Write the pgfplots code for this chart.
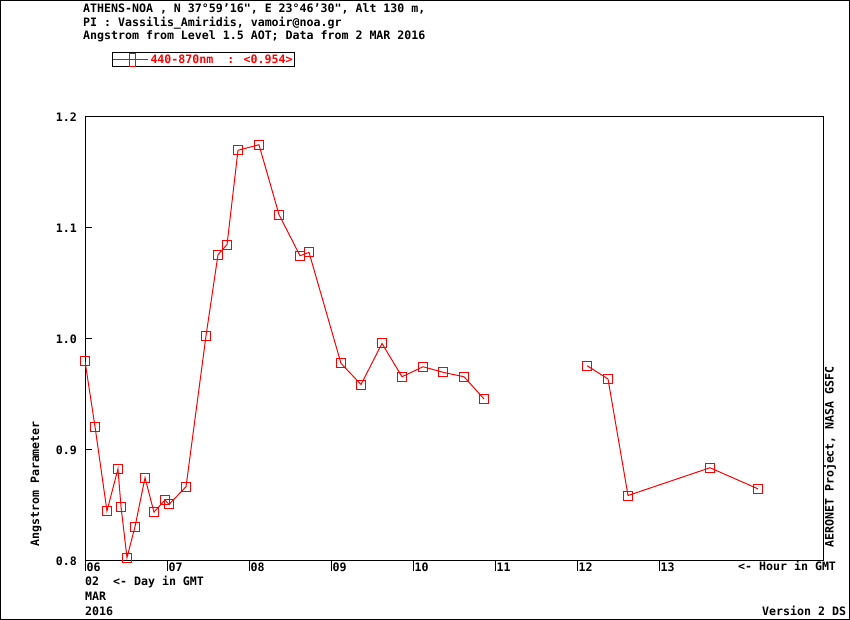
\documentclass[border=0pt]{standalone}
\usepackage{fontspec}
\setmainfont{DejaVu Sans Mono}[Ligatures=TeXOff]
\usepackage{pgfplots}
\pgfplotsset{compat=1.18}
\usepackage{pgfplotstable}

\newcommand\ff{\fontsize{11.6pt}{13.5pt}\selectfont\bfseries}

% Angstrom 440-870 nm, hour of day (GMT) vs value
\pgfplotstableread{
hour   ae
6.000  0.980
6.122  0.921
6.268  0.845
6.402  0.883
6.439  0.849
6.512  0.803
6.610  0.831
6.732  0.875
6.841  0.844
6.976  0.855
7.024  0.851
7.232  0.867
7.476  1.003
7.622  1.076
7.732  1.085
7.866  1.170
8.122  1.175
8.366  1.112
8.622  1.075
8.732  1.078
9.122  0.978
9.366  0.959
9.622  0.996
9.866  0.966
10.122 0.975
10.366 0.970
10.622 0.966
10.866 0.946
11.500 nan
12.122 0.976
12.378 0.964
12.622 0.859
13.622 0.884
14.207 0.865
}\angstrom

\begin{document}
\begin{tikzpicture}
\begin{axis}[
    at={(85pt,59pt)}, anchor=south west,
    scale only axis,
    width=738pt, height=444pt,
    xmin=6, xmax=15, ymin=0.8, ymax=1.2,
    axis line style={line width=1pt},
    font=\ff,
    xtick={6,7,...,13},
    xticklabels={06,07,08,09,10,11,12,13},
    ytick={0.8,0.9,1.0,1.1,1.2},
    yticklabels={0.8,0.9,1.0,1.1,1.2},
    xtick pos=bottom, ytick pos=left,
    tick align=inside,
    major tick length=7pt,
    xtick style={/pgfplots/major tick length=-10pt},
    tick style={black, line width=1pt},
    xticklabel style={anchor=north west, inner sep=0pt, xshift=1.5pt, yshift=-2pt},
    yticklabel style={anchor=east, inner sep=0pt, xshift=-8pt},
    unbounded coords=jump,
    legend style={at={(0.0366,1.146)}, anchor=north west, draw=black,
      line width=1pt, inner xsep=0pt, inner ysep=0pt, font=\ff, text=red,
      nodes={inner sep=0.5pt, inner xsep=2pt}},
    legend image code/.code={
      \draw[red, line width=1pt] (-1pt,0pt) -- (34pt,0pt);
      \draw[red, line width=1pt] (15pt,-6.5pt) rectangle (21pt,6.5pt);
    },
  ]
  \addplot[red, line width=1pt, mark=square, mark size=4.5pt,
    mark options={solid, line width=1pt}] table[x=hour, y=ae] {\angstrom};
  \addlegendentry{440-870nm\ \ : <0.954>}
\end{axis}
\begin{scope}[every node/.style={inner sep=0pt, anchor=base west, font=\ff}]
  \node at (83pt,607.7pt) {ATHENS-NOA , N 37°59’16", E 23°46’30", Alt 130 m,};
  \node at (83pt,593.3pt) {PI : Vassilis\_Amiridis, vamoir@noa.gr};
  \node at (83pt,580.7pt) {Angstrom from Level 1.5 AOT; Data from 2 MAR 2016};
  \node at (738pt,49pt) {<- Hour in GMT};
  \node at (85pt,34pt) {02\ \ <- Day in GMT};
  \node at (85pt,19pt) {MAR};
  \node at (85pt,4pt) {2016};
  \node at (762pt,4pt) {Version 2 DS};
  \node[rotate=90] at (39pt,73pt) {Angstrom Parameter};
  \node[rotate=90] at (833.5pt,72pt) {AERONET Project, NASA GSFC};
\end{scope}
\draw[line width=1pt] (0.5pt,0.5pt) rectangle (849.5pt,619.5pt);
\pgfresetboundingbox
\useasboundingbox (0pt,0pt) rectangle (850pt,620pt);
\end{tikzpicture}
\end{document}
